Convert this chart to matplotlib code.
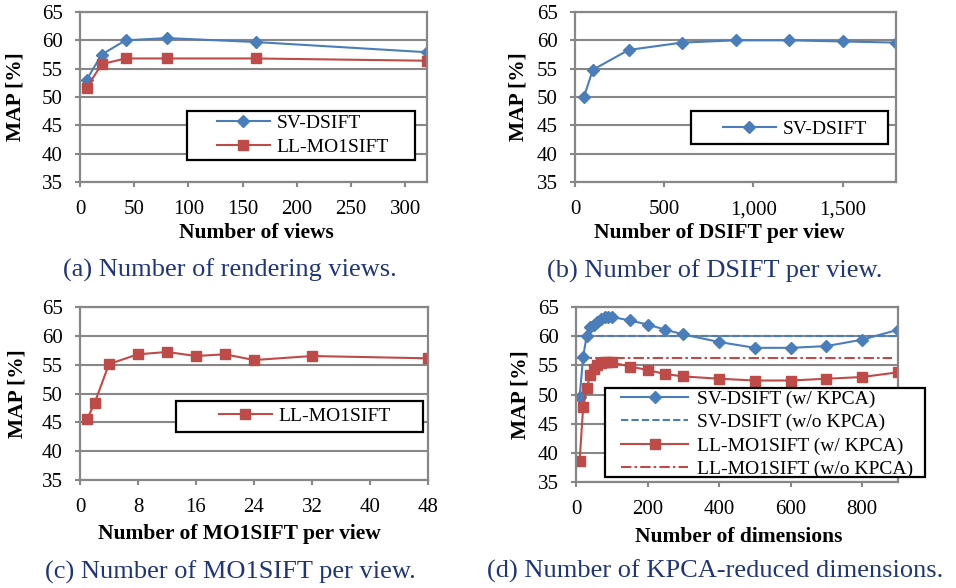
import numpy as np
import matplotlib
matplotlib.use('Agg')
import matplotlib.pyplot as plt
from matplotlib.patches import Rectangle

# ---------------- data ----------------
views = [6, 20, 42, 80, 162, 320]
views_sv = [53.0, 57.5, 60.0, 60.4, 59.7, 57.9]
views_ll = [51.6, 55.8, 56.8, 56.8, 56.8, 56.4]

dsift_n = [50, 100, 300, 600, 900, 1200, 1500, 1800]
dsift_sv = [50.0, 54.8, 58.3, 59.6, 60.0, 60.0, 59.8, 59.6]

mo1_n = [1, 2, 4, 8, 12, 16, 20, 24, 32, 48]
mo1_ll = [45.6, 48.3, 55.1, 56.8, 57.2, 56.5, 56.8, 55.8, 56.5, 56.1]

dims = [10, 20, 30, 40, 50, 60, 70, 80, 90, 100, 150, 200, 250, 300,
        400, 500, 600, 700, 800, 900]
dims_sv = [49.5, 56.5, 60.1, 61.6, 61.9, 62.5, 62.9, 63.3, 63.3, 63.3,
           62.7, 62.0, 61.1, 60.3, 59.0, 58.0, 58.0, 58.3, 59.4, 61.1]
dims_ll = [38.6, 47.8, 51.1, 53.3, 54.3, 55.0, 55.4, 55.5, 55.5, 55.5,
           54.8, 54.2, 53.5, 53.1, 52.7, 52.4, 52.4, 52.7, 53.0, 53.8]
sv_nokpca = 60.0
ll_nokpca = 56.2

captions = ['(a) Number of rendering views.', '(b) Number of DSIFT per view.',
            '(c) Number of MO1SIFT per view.', '(d) Number of KPCA-reduced dimensions.']
xlabels = ['Number of views', 'Number of DSIFT per view',
           'Number of MO1SIFT per view', 'Number of dimensions']

BLUE = '#4A7EBB'
RED = '#BE4B48'
GRID = '#878787'
NAVY = '#1F3578'

plt.rcParams['font.family'] = 'Liberation Serif'
W, H = 956, 588
fig = plt.figure(figsize=(W / 100, H / 100), dpi=100)


def fx(px):
    return px / W


def fy(py):
    return 1 - py / H


def make_axes(l, r, t, b, xlab, xlab_pos, ylab_x):
    """axes from pixel box (left, right, top, bottom) plus its labels"""
    ax = fig.add_axes([fx(l), fy(b), (r - l) / W, (b - t) / H])
    ax.set_ylim(35, 65)
    ax.set_yticks(np.arange(35, 66, 5))
    ax.yaxis.grid(True, color=GRID, lw=1.5)
    ax.set_axisbelow(True)
    for s in ax.spines.values():
        s.set_color(GRID)
        s.set_linewidth(1.6)
    ax.tick_params(direction='out', length=3.5, width=1.5, color=GRID, labelsize=15)
    ax.tick_params(axis='x', pad=9.5)
    ax.tick_params(axis='y', pad=9)
    fig.text(fx(xlab_pos[0]), fy(xlab_pos[1]), xlab, ha='center', va='center',
             fontsize=15.5, fontweight='bold')
    fig.text(fx(ylab_x), fy((t + b) / 2), 'MAP [%]', rotation=90, ha='center',
             va='center', fontsize=15.5, fontweight='bold')
    return ax


def put_legend(ax, box, centre, hlen, htp=0.35):
    """frameless legend centred on `centre`, black box drawn at `box` (l, t, r, b)"""
    l, t, r, b = box
    fig.add_artist(Rectangle((fx(l), fy(b)), (r - l) / W, (b - t) / H,
                             transform=fig.transFigure, facecolor='white',
                             edgecolor='black', lw=1.6, zorder=4))
    h, lab = ax.get_legend_handles_labels()
    fig.legend(h, lab, loc='center', bbox_to_anchor=(fx(centre[0]), fy(centre[1])),
               frameon=False, fontsize=14, borderpad=0, borderaxespad=0,
               labelspacing=0.3, handlelength=hlen, handletextpad=htp)


mk_sv = dict(color=BLUE, marker='D', markersize=6.5, lw=1.5)
mk_ll = dict(color=RED, marker='s', markersize=7.5, lw=1.5)

# (a)
ax = make_axes(80, 427, 12, 182, xlabels[0], (256, 233), 16)
ax.plot(views, views_sv, label='SV-DSIFT', **mk_sv)
ax.plot(views, views_ll, label='LL-MO1SIFT', **mk_ll)
ax.set_xlim(0, 320)
ax.set_xticks(range(0, 301, 50))
put_legend(ax, (187, 111, 415, 160), (303, 135), 2.7)

# (b)
ax = make_axes(575, 896, 12, 182, xlabels[1], (719, 233), 519)
ax.plot(dsift_n, dsift_sv, label='SV-DSIFT', **mk_sv)
ax.set_xlim(0, 1800)
ax.set_xticks(range(0, 1501, 500))
ax.set_xticklabels(['0', '500', '1,000', '1,500'])
put_legend(ax, (691, 111, 888, 144), (795, 129), 2.7)

# (c)
ax = make_axes(80, 428, 307, 480, xlabels[2], (239, 534), 18)
ax.plot(mo1_n, mo1_ll, label='LL-MO1SIFT', **mk_ll)
ax.set_xlim(0, 48)
ax.set_xticks(range(0, 49, 8))
put_legend(ax, (176, 401, 423, 432), (305, 416), 2.7)

# (d)
ax = make_axes(576, 898, 307, 482, xlabels[3], (739, 537), 520)
ax.plot(dims, dims_sv, label='SV-DSIFT (w/ KPCA)', **mk_sv)
ax.axhline(sv_nokpca, color=BLUE, ls=(0, (3.5, 1.5)), lw=1.5,
           label='SV-DSIFT (w/o KPCA)', zorder=1.5)
ax.plot(dims, dims_ll, label='LL-MO1SIFT (w/ KPCA)', **mk_ll)
ax.axhline(ll_nokpca, xmax=0.98, color=RED, ls=(0, (5, 1.5, 1.2, 1.5)), lw=1.5,
           label='LL-MO1SIFT (w/o KPCA)', zorder=1.5)
ax.set_xlim(0, 900)
ax.set_xticks(range(0, 801, 200))
put_legend(ax, (605, 388, 925, 477), (767, 434), 3.45, 0.45)

# captions
for (x, y), txt in zip([(230, 270), (715, 271), (230, 572), (715, 571)], captions):
    fig.text(fx(x), fy(y), txt, ha='center', va='center', fontsize=19, color=NAVY)

fig.savefig('out.png', dpi=100)
